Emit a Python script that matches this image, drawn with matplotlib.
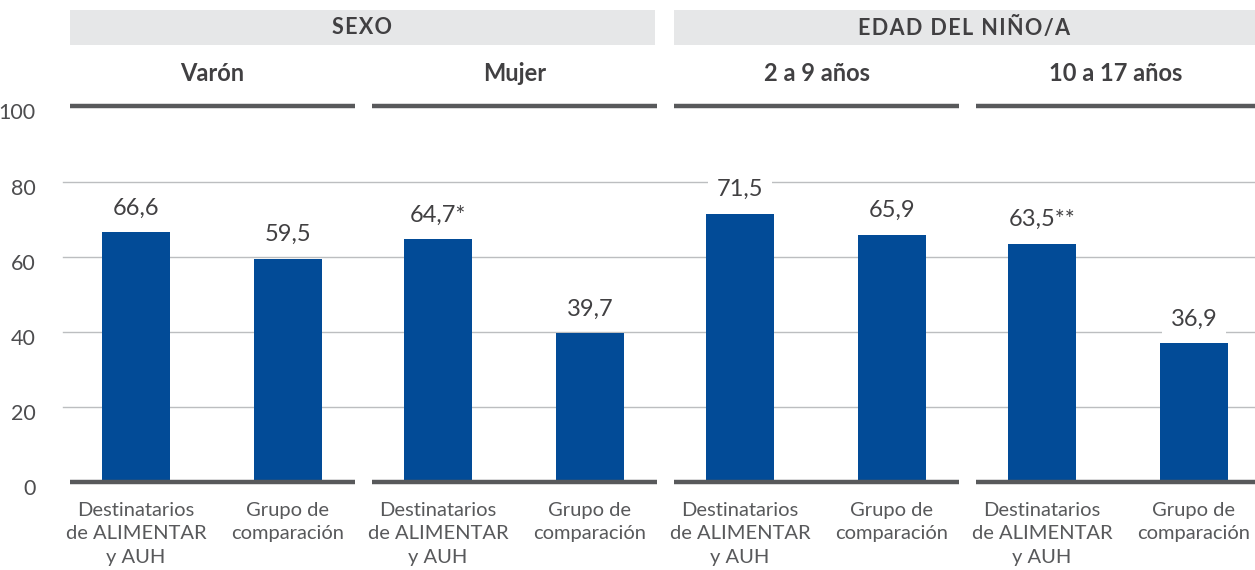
import matplotlib
matplotlib.use("Agg")
import matplotlib.pyplot as plt
from matplotlib.patches import Rectangle
from matplotlib.transforms import ScaledTranslation

# ---- data ----
supergroups = ["SEXO", "EDAD DEL NIÑO/A"]
groups = ["Varón", "Mujer", "2 a 9 años", "10 a 17 años"]
categories = ["Destinatarios\nde ALIMENTAR\ny AUH", "Grupo de\ncomparación"]
dest_values = [66.6, 64.7, 71.5, 63.5]
comp_values = [59.5, 39.7, 65.9, 36.9]
dest_marks = ["", "*", "", "**"]
comp_marks = ["", "", "", ""]
yticks = [0, 20, 40, 60, 80, 100]

# ---- style ----
BAR = "#024b97"
DARK = "#58595b"
TXT = "#414042"
GRID = "#bcbec0"
HEAD_BG = "#e6e7e8"
plt.rcParams["font.family"] = ["Lato", "DejaVu Sans"]

fig = plt.figure(figsize=(12.55, 5.70), dpi=100)
ax = fig.add_axes([70 / 1255, 88 / 570, 1185 / 1255, 375.5 / 570])
XMAX = 1185
ax.set_xlim(0, XMAX)
ax.set_ylim(0, 100)

pitch, pw = 302, 285
offs = [66, 218]
bw = 68

for y in yticks[1:-1]:
    ax.plot([-7, XMAX], [y, y], color=GRID, lw=1.0, zorder=0, clip_on=False)

fmt = lambda v: f"{v:.1f}".replace(".", ",")
spaced = lambda s: "\u200a".join(s)

for i, g in enumerate(groups):
    x0 = i * pitch
    x1 = min(x0 + pw, XMAX)
    for yy in (0, 100):
        ax.plot([x0, x1], [yy, yy], color=DARK, lw=3.2, solid_capstyle="butt",
                clip_on=False, zorder=3)
    ax.text((x0 + x1) / 2, 108.9, g, ha="center", va="center", fontsize=17,
            fontweight="bold", color=TXT, clip_on=False)
    vals = [dest_values[i], comp_values[i]]
    marks = [dest_marks[i], comp_marks[i]]
    for j, (v, m) in enumerate(zip(vals, marks)):
        xc = x0 + offs[j]
        ax.bar(xc, v, width=bw, color=BAR, zorder=2)
        ax.annotate(fmt(v) + m, (xc, v), xytext=(0, 12.5), textcoords="offset points",
                    ha="center", va="baseline", fontsize=17, color=TXT,
                    bbox=dict(boxstyle="square,pad=0.35", fc="white", ec="none"),
                    zorder=4)
        ax.text(xc, -5.3, categories[j], ha="center", va="top", fontsize=14.5,
                color="#58595b", linespacing=1.45, clip_on=False)

for k, sg in enumerate(supergroups):
    x0 = 2 * k * pitch
    x1 = min(x0 + pitch + pw - (2 if k == 0 else 0), XMAX)
    ax.add_patch(Rectangle((x0, 116.4), x1 - x0, 9.3, facecolor=HEAD_BG,
                           edgecolor="none", clip_on=False))
    ax.text((x0 + x1) / 2, 121.0, spaced(sg), ha="center", va="center", fontsize=15.5,
            fontweight="bold", color=TXT, clip_on=False)

ax.set_yticks(yticks)
ax.set_yticklabels([str(t) for t in yticks], fontsize=15.5, color="#4d4d4f")
ax.tick_params(axis="y", length=0, pad=25)
shift = ScaledTranslation(0, -5 / 100, fig.dpi_scale_trans)
for lab in ax.get_yticklabels():
    lab.set_transform(lab.get_transform() + shift)
ax.set_xticks([])
for s in ax.spines.values():
    s.set_visible(False)

fig.savefig("out.png", dpi=100)
